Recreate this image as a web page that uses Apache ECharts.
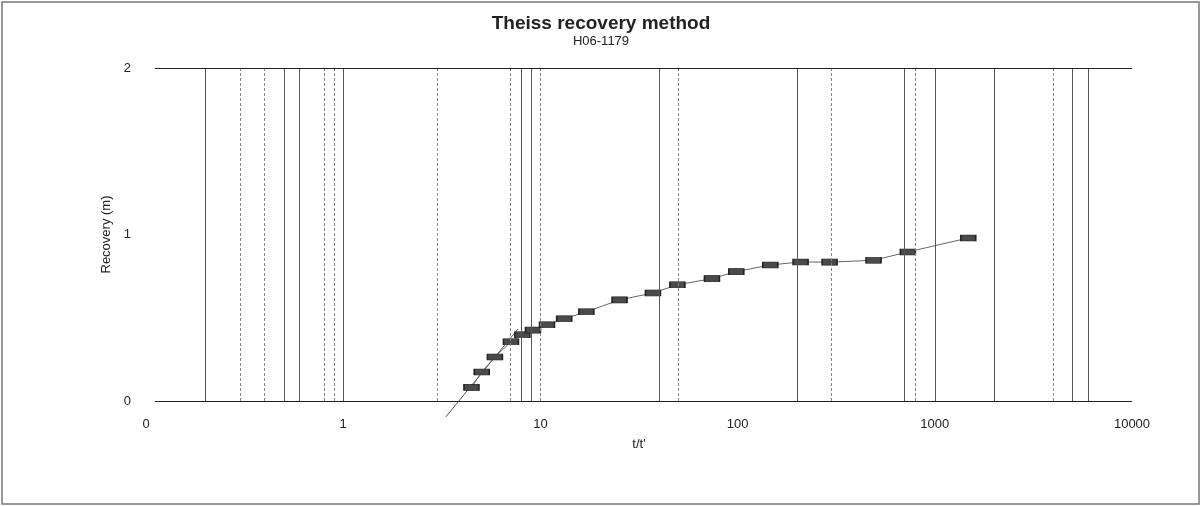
<!DOCTYPE html>
<html>
<head>
<meta charset="utf-8">
<script src="https://cdn.jsdelivr.net/npm/echarts@6/dist/echarts.min.js"></script>
<style>
  html, body { margin: 0; padding: 0; background: #fff; }
  #chart { width: 1202px; height: 506px; }
</style>
</head>
<body>
<div id="chart"></div>
<script>
    'use strict';

    // measured points, t/t' vs recovery (m)
    var ttPrime = [4.47, 5.04, 5.88, 7.09, 8.10, 9.17, 10.8, 13.2, 17.1, 25.2,
        37.2, 49.5, 74.1, 98.5, 146.5, 208.6, 292.7, 489, 730, 1478];
    var recovery = [0.082, 0.174, 0.264, 0.356, 0.398, 0.426, 0.458, 0.494, 0.536, 0.607,
        0.649, 0.698, 0.735, 0.777, 0.817, 0.835, 0.834, 0.845, 0.895, 0.979];

    // straight-line fit through the early points
    var fitX = [3.31, 7.69];
    var fitY = [-0.096, 0.432];

    // vertical grid lines as they appear on the sheet
    var gridSolid = [0.2, 0.5, 0.6, 1, 8, 9, 40, 200, 700, 1000, 2000, 5000, 6000];
    var gridDashed = [0.3, 0.4, 0.8, 0.9, 3, 7, 10, 50, 300, 800, 4000];

    var xTicks = [0.1, 1, 10, 100, 1000, 10000];
    var yTicks = [0, 1, 2];
    var frameStartX = 0.111;  // the horizontal frame lines start a bit right of the 0 label

    var font = 'Liberation Sans, Arial, sans-serif';

    function pairs(xs, ys) {
        var out = [];
        for (var i = 0; i < xs.length; i++) {
            out.push([xs[i], ys[i]]);
        }
        return out;
    }

    var vLines = [];
    gridSolid.forEach(function (v) {
        vLines.push({ xAxis: v, lineStyle: { type: 'solid', color: '#555', width: 1 } });
    });
    gridDashed.forEach(function (v) {
        vLines.push({ xAxis: v, lineStyle: { type: [3, 2], color: '#888', width: 1 } });
    });
    // top and bottom frame lines of the plot
    [yTicks[0], yTicks[yTicks.length - 1]].forEach(function (y) {
        vLines.push([
            { coord: [frameStartX, y], lineStyle: { type: 'solid', color: '#222', width: 1.2 } },
            { coord: [xTicks[xTicks.length - 1], y] }
        ]);
    });

    var chart = echarts.init(document.getElementById('chart'), null, { renderer: 'canvas' });

    chart.setOption({
        backgroundColor: '#fff',
        animation: false,
        title: {
            text: 'Theiss recovery method',
            subtext: 'H06-1179',
            left: 'center',
            top: 9,
            itemGap: 2,
            textStyle: { fontFamily: font, fontSize: 19, fontWeight: 'bold', color: '#222' },
            subtextStyle: { fontFamily: font, fontSize: 13, color: '#222' }
        },
        graphic: [{
            type: 'rect',
            shape: { x: 2, y: 2, width: 1197, height: 502 },
            style: { fill: 'none', stroke: '#777', lineWidth: 1.5 },
            silent: true
        }],
        grid: { left: 146, right: 70, top: 68, bottom: 105 },
        xAxis: {
            type: 'log',
            logBase: 10,
            min: xTicks[0],
            max: xTicks[xTicks.length - 1],
            name: "t/t'",
            nameLocation: 'middle',
            nameGap: 37,
            nameTextStyle: { fontFamily: font, fontSize: 13, color: '#222' },
            axisLine: { show: false },
            axisTick: { show: false },
            splitLine: { show: false },
            minorTick: { show: false },
            axisLabel: {
                margin: 17,
                fontFamily: font,
                fontSize: 13,
                color: '#222',
                formatter: function (v) {
                    return v < 1 ? '0' : String(Math.round(v));
                }
            }
        },
        yAxis: {
            type: 'value',
            min: yTicks[0],
            max: yTicks[yTicks.length - 1],
            interval: 1,
            name: 'Recovery (m)',
            nameLocation: 'middle',
            nameGap: 28,
            nameTextStyle: { fontFamily: font, fontSize: 13, color: '#222' },
            axisLine: { show: false },
            axisTick: { show: false },
            splitLine: { show: false },
            axisLabel: { margin: 15, fontFamily: font, fontSize: 13, color: '#222' }
        },
        series: [{
            name: 'grid',
            type: 'line',
            data: [],
            silent: true,
            markLine: {
                symbol: 'none',
                silent: true,
                label: { show: false },
                data: vLines
            }
        }, {
            name: 'fit',
            type: 'line',
            data: pairs(fitX, fitY),
            clip: false,
            showSymbol: false,
            lineStyle: { color: '#555', width: 1 },
            z: 3
        }, {
            name: 'recovery',
            type: 'line',
            data: pairs(ttPrime, recovery),
            symbol: 'rect',
            symbolSize: [15, 6],
            lineStyle: { color: '#666', width: 1 },
            itemStyle: { color: '#4a4a4a', borderColor: '#222', borderWidth: 1 },
            z: 4
        }]
    });
</script>
</body>
</html>
